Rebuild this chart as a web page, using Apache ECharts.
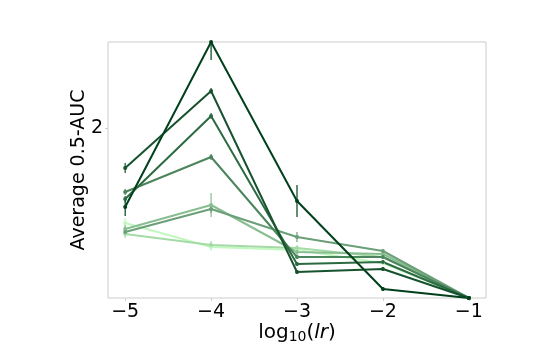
<!DOCTYPE html>
<html>
<head>
<meta charset="utf-8">
<script src="https://cdn.jsdelivr.net/npm/echarts@6/dist/echarts.min.js"></script>
<style>
  html, body { margin: 0; padding: 0; background: #fff; }
  #chart { width: 540px; height: 360px; }
</style>
</head>
<body>
<div id="chart"></div>
<script>
// log10(lr) positions
const lrLog = [-5, -4, -3, -2, -1];
const xTicks = [-5, -4, -3, -2, -1];
const yTicks = [2];

// mean 0.5-AUC per run, dark -> light
const run1 = [1.21, 2.86, 1.27, 0.39, 0.30];
const run2 = [1.60, 2.37, 0.56, 0.59, 0.30];
const run3 = [1.29, 2.12, 0.64, 0.66, 0.30];
const run4 = [1.36, 1.71, 0.71, 0.71, 0.30];
const run5 = [0.96, 1.19, 0.91, 0.77, 0.30];
const run6 = [0.99, 1.23, 0.76, 0.74, 0.30];
const run7 = [0.94, 0.83, 0.80, 0.71, 0.30];
const run8 = [1.05, 0.81, 0.78, 0.65, 0.30];

// error bar half-heights
const err1 = [0.09, 0.18, 0.16, 0.02, 0.01];
const err2 = [0.05, 0.03, 0.02, 0.02, 0.01];
const err3 = [0.03, 0.03, 0.02, 0.02, 0.01];
const err4 = [0.03, 0.03, 0.02, 0.02, 0.01];
const err5 = [0.03, 0.04, 0.05, 0.02, 0.01];
const err6 = [0.04, 0.12, 0.03, 0.02, 0.01];
const err7 = [0.04, 0.04, 0.03, 0.02, 0.01];
const err8 = [0.05, 0.04, 0.02, 0.02, 0.01];

const runs = [run1, run2, run3, run4, run5, run6, run7, run8];
const errs = [err1, err2, err3, err4, err5, err6, err7, err8];
const colors = ['#00401b', '#16522e', '#2c6a42', '#4a855c', '#6a9f77', '#88bd90', '#a4daa6', '#c2f7c0'];

const chart = echarts.init(document.getElementById('chart'));

const series = [];
// draw light runs first so dark ones sit on top
for (let k = runs.length - 1; k >= 0; k--) {
  const vals = runs[k];
  const color = colors[k];
  series.push({
    type: 'custom',
    renderItem: (params, api) => {
      const top = api.coord([api.value(0), api.value(1)]);
      const bot = api.coord([api.value(0), api.value(2)]);
      return {
        type: 'line',
        shape: { x1: top[0], y1: top[1], x2: bot[0], y2: bot[1] },
        style: { stroke: color, lineWidth: 1.2 }
      };
    },
    data: vals.map((v, i) => [lrLog[i], v + errs[k][i], v - errs[k][i]]),
    clip: true,
    z: 2
  });
  series.push({
    type: 'line',
    data: vals.map((v, i) => [lrLog[i], v]),
    symbol: 'circle',
    symbolSize: 4,
    showSymbol: true,
    itemStyle: { color: color },
    lineStyle: { color: color, width: 2 },
    clip: true,
    z: 3
  });
}

chart.setOption({
  animation: false,
  backgroundColor: '#fff',
  grid: {
    left: 108, right: 54, top: 42, bottom: 62,
    show: true, borderColor: '#cccccc', borderWidth: 1
  },
  xAxis: {
    type: 'value',
    min: -5.2,
    max: -0.8,
    name: '{n|log}{s|10}{n|(}{i|lr}{n|)}',
    nameLocation: 'middle',
    nameGap: 24,
    nameMoveOverlap: false,
    nameTextStyle: {
      rich: {
        n: { fontFamily: 'DejaVu Sans', fontSize: 20, color: '#000' },
        i: { fontFamily: 'DejaVu Sans', fontSize: 20, fontStyle: 'italic', color: '#000' },
        s: { fontFamily: 'DejaVu Sans', fontSize: 14, color: '#000', padding: [8, 0, 0, 0] }
      }
    },
    axisLine: { show: false },
    splitLine: { show: false },
    axisTick: { show: true, length: 3, customValues: xTicks, lineStyle: { color: '#cccccc' } },
    axisLabel: {
      customValues: xTicks,
      fontFamily: 'DejaVu Sans',
      fontSize: 19,
      color: '#000',
      margin: 5,
      formatter: v => String(v).replace('-', '\u2212')
    }
  },
  yAxis: {
    type: 'value',
    min: 0.3,
    max: 2.86,
    name: 'Average 0.5-AUC',
    nameLocation: 'middle',
    nameGap: 19,
    nameMoveOverlap: false,
    nameTextStyle: { fontFamily: 'DejaVu Sans', fontSize: 19, color: '#000' },
    axisLine: { show: false },
    splitLine: { show: false },
    axisTick: { show: true, length: 3, customValues: yTicks, lineStyle: { color: '#cccccc' } },
    axisLabel: {
      customValues: yTicks,
      fontFamily: 'DejaVu Sans',
      fontSize: 19,
      color: '#000',
      margin: 5
    }
  },
  series: series
});
</script>
</body>
</html>
